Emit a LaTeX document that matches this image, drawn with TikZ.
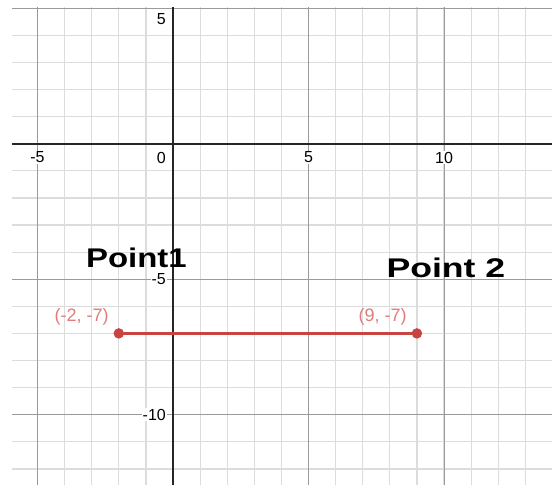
\documentclass[tikz,border=0pt]{standalone}
\usepackage{fontspec}
\setmainfont{Liberation Sans}
\usetikzlibrary{positioning}
\definecolor{ptred}{HTML}{C74440}
\definecolor{lblred}{HTML}{E07B7B}
\definecolor{minorgray}{HTML}{DCDCDC}
\definecolor{majorgray}{HTML}{9A9A9A}

\begin{document}
\begin{tikzpicture}[x=27.1pt, y=27.1pt,
  minorline/.style={minorgray, line width=1.2pt},
  majorline/.style={majorgray, line width=0.9pt},
  axisline/.style={black!85, line width=1.8pt},
  ticklbl/.style={font=\fontsize{16}{18}\selectfont, fill=white, inner sep=1pt},
  ptlbl/.style={font=\fontsize{18}{20}\selectfont, text=lblred, inner sep=0pt, anchor=base east},
  dot/.style={circle, fill=ptred, minimum size=10.5pt, inner sep=0pt},
  hand/.style={font=\fontsize{27}{30}\selectfont\bfseries, inner sep=0pt, transform shape}]
  \useasboundingbox (-6.384,-12.668) rectangle (13.985,5.303);
  % grid
  \begin{scope}
    \clip (-5.94,-12.557) rectangle (13.985,5.044);
    \foreach \x in {-6,...,14} \draw[minorline] (\x,-13) -- (\x,6);
    \foreach \y in {-13,...,5} \draw[minorline] (-7,\y) -- (15,\y);
    \foreach \x in {-5,5,10} \draw[majorline] (\x,-13) -- (\x,6);
    \foreach \y in {-10,-5,5} \draw[majorline] (-7,\y) -- (15,\y);
    \draw[axisline] (-7,0) -- (15,0);
    \draw[axisline] (0,-13) -- (0,6);
  \end{scope}
  % axis numbers
  \node (xm5) [ticklbl, anchor=north, yshift=-7pt] at (-5,0) {-5};
  \node (x0) [ticklbl, anchor=north east, xshift=-6pt, yshift=-7pt] at (0,0) {0};
  \node (x5) [ticklbl, anchor=north, yshift=-7pt] at (5,0) {5};
  \node (x10) [ticklbl, anchor=north, yshift=-7pt] at (10,0) {10};
  \node (y5) [ticklbl, anchor=east, xshift=-6pt] at (0,4.6) {5};
  \node (ym5) [ticklbl, anchor=east, xshift=-6pt] at (0,-5) {-5};
  \node (ym10) [ticklbl, anchor=east, xshift=-6pt] at (0,-10) {-10};
  % segment
  \coordinate (a) at (-2,-7);
  \coordinate (b) at (9,-7);
  \draw[ptred, line width=3pt] (a) -- (b);
  \node (pa) [dot] at (a) {};
  \node (pb) [dot] at (b) {};
  \node (la) [ptlbl, xshift=-10pt, yshift=12pt] at (a) {(-2, -7)};
  \node (lb) [ptlbl, xshift=-10pt, yshift=12pt] at (b) {(9, -7)};
  % handwritten notes
  \node (h1) [hand, xscale=1.22] at (-1.35,-4.2) {Point1};
  \node (h2) [hand, xscale=1.32] at (10.07,-4.57) {Point 2};
\end{tikzpicture}
\end{document}
